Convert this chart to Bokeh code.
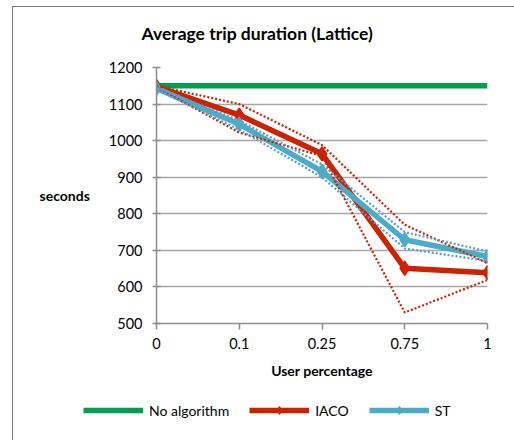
from bokeh.plotting import figure
from bokeh.layouts import column
from bokeh.models import Range1d, FixedTicker, Legend, LegendItem, Label
from bokeh.embed import file_html
from bokeh.resources import INLINE

title_text = "Average trip duration (Lattice)"
categories = ["0", "0.1", "0.25", "0.75", "1"]
y_ticks = [500, 600, 700, 800, 900, 1000, 1100, 1200]
no_algorithm = [1150, 1150, 1150, 1150, 1150]
iaco = [1148, 1070, 964, 651, 639]
st = [1143, 1045, 916, 729, 683]
iaco_upper = [1150, 1100, 988, 770, 665]
iaco_lower = [1146, 1022, 958, 530, 619]
st_upper = [1146, 1055, 935, 750, 697]
st_lower = [1140, 1030, 900, 705, 671]
series_names = ["No algorithm", "IACO", "ST"]

xs = list(range(len(categories)))

GREEN = "#00A04E"
RED = "#CC2200"
TEAL = "#4BACC6"
BLUE = "#5B9BD5"
FONT = "Lato"
BORDER = "1px solid #777777"
W = 502

# ---- header strip with the title ----
p0 = figure(width=W, height=48, output_backend="svg", toolbar_location=None,
            x_range=Range1d(0, W), y_range=Range1d(48, 0),
            x_axis_type=None, y_axis_type=None,
            min_border_left=0, min_border_right=0, min_border_top=0, min_border_bottom=0)
p0.margin = (6, 0, 0, 12)
p0.styles = {"border-left": BORDER, "border-top": BORDER}
p0.outline_line_color = None
p0.border_fill_color = "white"
p0.background_fill_color = "white"
p0.add_layout(Label(x=128, y=26, text=title_text, text_font=FONT, text_font_size="17.5px",
                    text_font_style="bold", text_color="#000000",
                    text_align="left", text_baseline="middle"))

# ---- main chart ----
p = figure(width=W, height=337, output_backend="svg", toolbar_location=None,
           x_range=Range1d(0, len(categories) - 1), y_range=Range1d(y_ticks[0], y_ticks[-1]),
           min_border_left=143, min_border_right=28, min_border_top=13, min_border_bottom=68)
p.margin = (0, 0, 0, 12)
p.styles = {"border-left": BORDER}
p.outline_line_color = None
p.background_fill_color = "white"
p.border_fill_color = "white"

p.xaxis.ticker = FixedTicker(ticks=xs)
p.xaxis.major_label_overrides = {i: c for i, c in enumerate(categories)}
p.yaxis.ticker = FixedTicker(ticks=y_ticks)
for ax in (p.xaxis[0], p.yaxis[0]):
    ax.axis_line_color = "#8c8c8c"
    ax.axis_line_width = 1.5
    ax.major_tick_line_color = "#8c8c8c"
    ax.major_tick_line_width = 1.5
    ax.minor_tick_line_color = None
    ax.major_label_text_font = FONT
    ax.major_label_text_font_size = "14.5px"
    ax.major_label_text_color = "#000000"
    ax.axis_label_text_font = FONT
    ax.axis_label_text_font_size = "14px"
    ax.axis_label_text_font_style = "bold"
    ax.axis_label_text_color = "#000000"
p.xaxis.major_tick_in = 0
p.xaxis.major_tick_out = 6
p.xaxis.major_label_standoff = 8
p.xaxis.axis_label = "User percentage"
p.xaxis.axis_label_standoff = 10
p.yaxis.major_tick_in = 4
p.yaxis.major_tick_out = 4
p.yaxis.major_label_standoff = 10
p.yaxis.axis_label = "seconds"
p.yaxis.axis_label_orientation = "horizontal"
p.yaxis.axis_label_standoff = 16

p.xgrid.visible = False
p.ygrid.grid_line_color = "#a6a6a6"
p.ygrid.grid_line_width = 1.5

p.line(xs, no_algorithm, line_color=GREEN, line_width=5.5)
p.line(xs, iaco, line_color=RED, line_width=5.5, line_join="round")
p.scatter(xs, iaco, marker="diamond", size=14, fill_color=RED, line_color=RED, line_width=1.5)
p.line(xs, st, line_color=TEAL, line_width=5.5, line_join="round")
p.scatter(xs, st, marker="diamond", size=14, fill_color=TEAL, line_color=TEAL, line_width=1.5)

for ys, col in ((iaco_upper, RED), (iaco_lower, RED), (st_upper, BLUE), (st_lower, BLUE)):
    p.line(xs, ys, line_color=col, line_width=2.2, line_dash="2 2")

# ---- legend strip ----
# the legend's renderers reuse the series data but sit outside this strip's visible range
p2 = figure(width=W, height=49, output_backend="svg", toolbar_location=None,
            x_range=Range1d(100, 101), y_range=Range1d(0, 1),
            x_axis_type=None, y_axis_type=None,
            min_border_left=0, min_border_right=0, min_border_top=0, min_border_bottom=0)
p2.margin = (0, 0, 0, 12)
p2.styles = {"border-left": BORDER}
p2.outline_line_color = None
p2.border_fill_color = "white"
p2.background_fill_color = "white"

lg = p2.line(xs, no_algorithm, line_color=GREEN, line_width=5.5)
lr = p2.line(xs, iaco, line_color=RED, line_width=5.5)
lrm = p2.scatter(xs, iaco, marker="diamond", size=14, fill_color=RED, line_color=RED)
lt = p2.line(xs, st, line_color=TEAL, line_width=5.5)
ltm = p2.scatter(xs, st, marker="diamond", size=14, fill_color=TEAL, line_color=TEAL)

legend = Legend(items=[
    LegendItem(label=series_names[0], renderers=[lg]),
    LegendItem(label=series_names[1], renderers=[lr, lrm]),
    LegendItem(label=series_names[2], renderers=[lt, ltm]),
], orientation="horizontal", location=(70, 20))
legend.padding = 0
legend.margin = 0
legend.spacing = 20
legend.glyph_width = 60
legend.glyph_height = 20
legend.label_standoff = 6
legend.label_text_font = FONT
legend.label_text_font_size = "14px"
legend.label_text_color = "#000000"
legend.border_line_color = None
legend.background_fill_alpha = 0
p2.add_layout(legend, "center")

# keep each strip's own frame (no frame alignment across the stacked figures)
for f in (p0, p, p2):
    if "frame_align" in f.properties():
        f.frame_align = False

layout = column(p0, p, p2, spacing=0)
open("out.html", "w").write(file_html(layout, INLINE))
